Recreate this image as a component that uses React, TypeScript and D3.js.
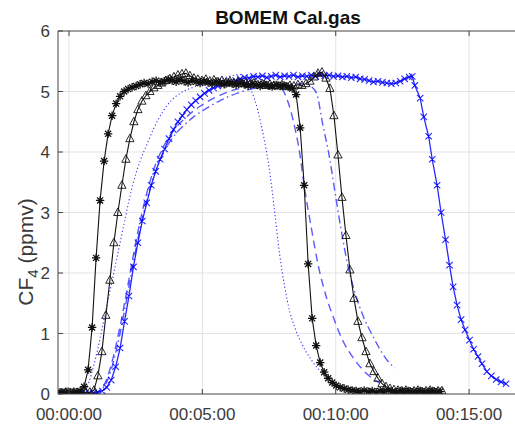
import React from 'react';
import * as d3 from 'd3';

type P = [number, number];

const titleText = 'BOMEM Cal.gas';
const xTickValues = [0, 300, 600, 900];
const xTickLabels = ['00:00:00', '00:05:00', '00:10:00', '00:15:00'];
const yTickValues = [0, 1, 2, 3, 4, 5, 6];

// black solid line, asterisk markers (t in seconds, CF4 ppmv)
const starSeries: P[] = [[-20,0.03],[-11,0.02],[-2,0.04],[7,0.02],[16,0.03],[25,0.05],[34,0.12],[43,0.40],[52,1.10],[61,2.25],[70,3.20],[79,3.85],[88,4.30],[97,4.60],[106,4.80],[115,4.92],[124,5.00],[133,5.04],[142,5.07],[151,5.09],[160,5.12],[169,5.14],[178,5.13],[187,5.16],[196,5.18],[205,5.15],[214,5.17],[223,5.20],[232,5.18],[241,5.16],[250,5.19],[259,5.17],[268,5.15],[277,5.18],[286,5.16],[295,5.14],[304,5.17],[313,5.15],[322,5.13],[331,5.16],[340,5.14],[349,5.12],[358,5.15],[367,5.13],[376,5.11],[385,5.14],[394,5.12],[403,5.10],[412,5.13],[421,5.11],[430,5.09],[439,5.12],[448,5.10],[457,5.08],[466,5.11],[475,5.09],[484,5.10],[493,5.08],[502,5.05],[511,4.95],[520,4.40],[529,3.45],[538,2.15],[547,1.25],[556,0.80],[565,0.52],[574,0.36],[583,0.26],[592,0.19],[601,0.14],[610,0.11],[619,0.09],[628,0.07],[637,0.06],[646,0.05],[655,0.04],[664,0.06],[673,0.04],[682,0.05],[691,0.03],[700,0.05],[709,0.04],[718,0.06],[727,0.04],[736,0.03],[745,0.05],[754,0.04],[763,0.05],[772,0.03],[781,0.04],[790,0.05],[799,0.03],[808,0.04],[817,0.05],[826,0.03],[835,0.04]];

// black solid line, open triangle markers
const triSeries: P[] = [[-16,0.02],[-7,0.03],[2,0.02],[11,0.03],[20,0.02],[29,0.03],[38,0.02],[47,0.03],[56,0.06],[65,0.30],[74,0.70],[83,1.30],[92,1.88],[101,2.50],[110,3.00],[119,3.45],[128,3.88],[137,4.22],[146,4.50],[155,4.70],[164,4.84],[173,4.93],[182,5.00],[191,5.06],[200,5.10],[209,5.14],[218,5.18],[227,5.21],[236,5.24],[245,5.27],[254,5.29],[263,5.30],[272,5.26],[281,5.22],[290,5.20],[299,5.18],[308,5.20],[317,5.17],[326,5.19],[335,5.16],[344,5.18],[353,5.15],[362,5.17],[371,5.14],[380,5.16],[389,5.13],[398,5.15],[407,5.12],[416,5.14],[425,5.11],[434,5.13],[443,5.10],[452,5.12],[461,5.10],[470,5.09],[479,5.11],[488,5.08],[497,5.10],[506,5.09],[515,5.11],[524,5.10],[533,5.13],[542,5.17],[551,5.24],[560,5.30],[569,5.32],[578,5.22],[587,5.05],[596,4.60],[605,3.95],[614,3.25],[623,2.62],[632,2.05],[641,1.58],[650,1.20],[659,0.93],[668,0.70],[677,0.50],[686,0.37],[695,0.26],[704,0.17],[713,0.12],[722,0.09],[731,0.07],[740,0.06],[749,0.05],[758,0.06],[767,0.04],[776,0.05],[785,0.06],[794,0.04],[803,0.05],[812,0.06],[821,0.04],[830,0.05],[839,0.05]];

// blue solid line, x markers
const crossSeries: P[] = [[-15,0.02],[-5,0.01],[5,0.02],[15,0.01],[25,0.02],[35,0.01],[45,0.02],[55,0.02],[65,0.03],[75,0.05],[85,0.11],[95,0.23],[105,0.45],[115,0.76],[125,1.20],[135,1.62],[145,2.10],[155,2.50],[165,2.86],[175,3.16],[185,3.45],[195,3.68],[205,3.88],[215,4.05],[225,4.22],[235,4.37],[245,4.50],[255,4.60],[265,4.70],[275,4.78],[285,4.85],[295,4.91],[305,4.97],[315,5.02],[325,5.06],[335,5.09],[345,5.11],[355,5.14],[365,5.16],[375,5.18],[385,5.21],[395,5.23],[405,5.22],[415,5.25],[425,5.24],[435,5.26],[445,5.23],[455,5.25],[465,5.27],[475,5.24],[485,5.26],[495,5.25],[505,5.27],[515,5.24],[525,5.26],[535,5.25],[545,5.27],[555,5.25],[565,5.28],[575,5.26],[585,5.27],[595,5.25],[605,5.26],[615,5.24],[625,5.25],[635,5.23],[645,5.24],[655,5.21],[665,5.20],[675,5.18],[685,5.16],[695,5.17],[705,5.15],[715,5.14],[725,5.13],[735,5.14],[745,5.17],[755,5.21],[765,5.24],[772,5.25],[778,5.10],[790,4.89],[798,4.58],[809,4.26],[817,3.88],[828,3.45],[837,3.00],[847,2.55],[856,2.13],[864,1.77],[873,1.47],[882,1.23],[891,1.06],[901,0.89],[910,0.74],[920,0.62],[929,0.50],[940,0.37],[950,0.30],[961,0.24],[972,0.20],[983,0.17]];

// blue dotted line
const dottedSeries: P[] = [[25,0.0],[35,0.05],[45,0.2],[55,0.45],[65,0.75],[75,1.1],[85,1.45],[95,1.8],[105,2.15],[115,2.5],[125,2.85],[135,3.2],[145,3.5],[160,3.85],[175,4.12],[190,4.38],[212,4.68],[230,4.85],[250,4.97],[280,5.07],[310,5.14],[340,5.2],[365,5.26],[385,5.28],[398,5.2],[410,5.02],[425,4.68],[438,4.25],[450,3.75],[462,3.05],[474,2.3],[485,1.78],[497,1.35],[508,1.1],[519,0.9],[530,0.74],[542,0.6],[553,0.48],[564,0.39],[575,0.31],[587,0.24],[598,0.19]];

// blue dashed line
const dashedSeries: P[] = [[55,0],[65,0.03],[75,0.1],[85,0.25],[95,0.48],[105,0.78],[115,1.12],[125,1.5],[135,1.9],[145,2.3],[155,2.68],[165,3.02],[175,3.32],[185,3.58],[195,3.8],[210,4.05],[225,4.25],[240,4.4],[260,4.55],[280,4.68],[300,4.78],[320,4.87],[340,4.94],[360,5.0],[390,5.06],[420,5.1],[450,5.12],[470,5.1],[485,4.97],[504,4.53],[519,3.98],[530,3.4],[545,2.75],[560,2.15],[579,1.6],[594,1.28],[616,0.88],[639,0.6],[661,0.4],[684,0.25],[699,0.18]];

// blue dash-dot line
const dashDotSeries: P[] = [[55,0],[65,0.02],[75,0.08],[85,0.2],[95,0.4],[105,0.68],[115,1.0],[125,1.38],[135,1.78],[145,2.18],[155,2.56],[165,2.9],[175,3.2],[185,3.46],[195,3.68],[210,3.95],[225,4.15],[240,4.3],[260,4.45],[280,4.58],[300,4.68],[320,4.77],[340,4.85],[360,4.92],[390,5.0],[420,5.06],[460,5.1],[500,5.12],[530,5.13],[545,5.08],[557,4.97],[571,4.45],[587,3.87],[598,3.35],[613,2.68],[628,2.1],[643,1.68],[661,1.3],[684,0.95],[706,0.66],[720,0.52],[733,0.43]];

const FONT = "'Liberation Sans', Arial, Helvetica, sans-serif";

export default function App() {
  const left = 58, right = 518, top = 31, bottom = 394;
  const x = d3.scaleLinear().domain([-24.7, 1010]).range([left, right]);
  const y = d3.scaleLinear().domain([0, 6]).range([bottom, top]);
  const straight = d3.line<P>().x(d => x(d[0])).y(d => y(d[1]));
  const smooth = d3.line<P>().x(d => x(d[0])).y(d => y(d[1])).curve(d3.curveMonotoneX);

  const star = (cx: number, cy: number, r = 4.2) => {
    const k = r * 0.72;
    return `M${cx - r},${cy}L${cx + r},${cy}M${cx},${cy - r}L${cx},${cy + r}M${cx - k},${cy - k}L${cx + k},${cy + k}M${cx - k},${cy + k}L${cx + k},${cy - k}`;
  };
  const tri = (cx: number, cy: number, r = 4.6) =>
    `M${cx},${cy - r}L${cx + r * 0.9},${cy + r * 0.65}L${cx - r * 0.9},${cy + r * 0.65}Z`;
  const cross = (cx: number, cy: number, r = 3.2) =>
    `M${cx - r},${cy - r}L${cx + r},${cy + r}M${cx - r},${cy + r}L${cx + r},${cy - r}`;

  const blue = '#0000ff';
  const axisColor = '#444444';
  const textColor = '#3a3a3a';

  return (
    <svg width={515} height={426} style={{ position: 'absolute', left: 0, top: 0, background: '#ffffff' }} fontFamily={FONT}>
      <defs>
        <clipPath id="plotArea">
          <rect x={left} y={top - 6} width={right - left} height={bottom - top + 6} />
        </clipPath>
      </defs>
      <rect x={0} y={0} width={515} height={426} fill="#ffffff" />
      {/* grid */}
      <g stroke="#e3e3e3" strokeWidth={1}>
        {yTickValues.filter(v => v > 0 && v < 6).map(v => (
          <line key={'gy' + v} x1={left} x2={right} y1={y(v)} y2={y(v)} />
        ))}
        {xTickValues.map(v => (
          <line key={'gx' + v} x1={x(v)} x2={x(v)} y1={top} y2={bottom} />
        ))}
      </g>
      <g clipPath="url(#plotArea)" fill="none">
        <path d={smooth(dottedSeries) || ''} stroke={blue} strokeWidth={1.1} strokeDasharray="1.2,2.4" opacity={0.8} />
        <path d={smooth(dashedSeries) || ''} stroke={blue} strokeWidth={1.4} strokeDasharray="8,5" opacity={0.65} />
        <path d={smooth(dashDotSeries) || ''} stroke={blue} strokeWidth={1.4} strokeDasharray="8,3.5,1.5,3.5" opacity={0.65} />
        <path d={straight(crossSeries) || ''} stroke={blue} strokeWidth={1.3} opacity={0.85} />
        <path d={crossSeries.map(d => cross(x(d[0]), y(d[1]))).join('')} stroke={blue} strokeWidth={1.1} opacity={0.85} />
        <path d={straight(triSeries) || ''} stroke="#111" strokeWidth={1.1} />
        <path d={triSeries.map(d => tri(x(d[0]), y(d[1]))).join('')} stroke="#111" strokeWidth={0.9} />
        <path d={straight(starSeries) || ''} stroke="#111" strokeWidth={1.1} />
        <path d={starSeries.map(d => star(x(d[0]), y(d[1]))).join('')} stroke="#111" strokeWidth={1.3} />
      </g>
      {/* axes box */}
      <g stroke={axisColor} strokeWidth={1} fill="none">
        <line x1={left} x2={left} y1={top} y2={bottom} />
        <line x1={left} x2={right} y1={bottom} y2={bottom} />
        <line x1={left} x2={right} y1={top} y2={top} />
        {yTickValues.map(v => (
          <line key={'ty' + v} x1={left} x2={left + 5} y1={y(v)} y2={y(v)} />
        ))}
        {xTickValues.map(v => (
          <g key={'tx' + v}>
            <line x1={x(v)} x2={x(v)} y1={bottom} y2={bottom - 5} />
            <line x1={x(v)} x2={x(v)} y1={top} y2={top + 5} />
          </g>
        ))}
      </g>
      {/* tick labels */}
      <g fill={textColor} fontSize={17}>
        {yTickValues.map(v => (
          <text key={'ly' + v} x={left - 8} y={y(v)} dy="0.36em" textAnchor="end">{v}</text>
        ))}
        {xTickValues.map((v, i) => (
          <text key={'lx' + v} x={x(v)} y={420} textAnchor="middle">{xTickLabels[i]}</text>
        ))}
      </g>
      {/* y label */}
      <text transform="translate(33,252) rotate(-90)" textAnchor="middle" fontSize={21} fill={textColor}>
        CF<tspan dy={5} fontSize={15}>4</tspan><tspan dy={-5}> (ppmv)</tspan>
      </text>
      {/* title */}
      <text x={288} y={23.5} textAnchor="middle" fontSize={19} fontWeight="bold" fill="#111">{titleText}</text>
    </svg>
  );
}
